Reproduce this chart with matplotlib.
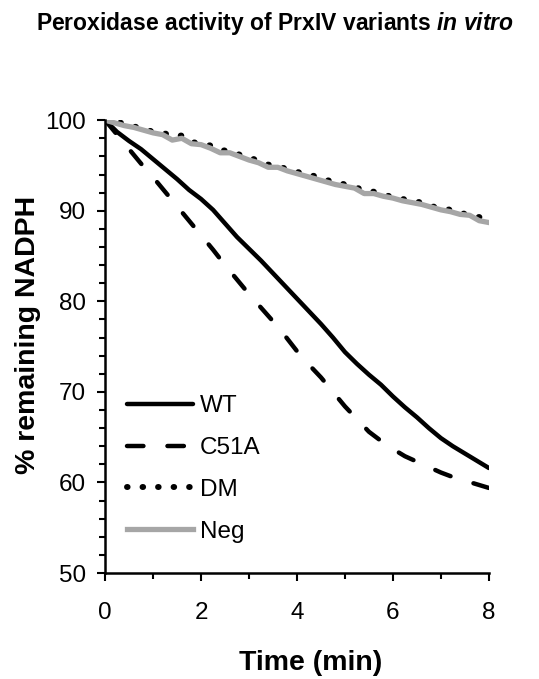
import numpy as np
import matplotlib
matplotlib.use("Agg")
import matplotlib.pyplot as plt
import matplotlib as mpl

mpl.rcParams['font.family'] = 'sans-serif'
mpl.rcParams['font.sans-serif'] = ['Liberation Sans', 'DejaVu Sans']
mpl.rcParams['mathtext.fontset'] = 'custom'
mpl.rcParams['mathtext.bfit'] = 'Liberation Sans:italic:bold'
mpl.rcParams['mathtext.rm'] = 'Liberation Sans'

# WT and C51A read every 0.25 min
t_fast = np.arange(0, 8.01, 0.25)
wt = [100.0, 98.7, 97.7, 96.8, 95.7, 94.6, 93.5, 92.3, 91.3, 90.1, 88.6,
      87.1, 85.8, 84.5, 83.1, 81.7, 80.3, 78.9, 77.5, 76.0, 74.4, 73.1,
      71.9, 70.8, 69.5, 68.3, 67.2, 66.0, 64.9, 64.0, 63.2, 62.4, 61.6]
c51a = [100.0, 98.4, 96.8, 95.2, 93.7, 92.1, 90.5, 88.9, 87.3, 85.7, 84.0,
        82.4, 80.8, 79.3, 77.8, 76.2, 74.5, 73.0, 71.6, 70.0, 68.4, 67.0,
        65.6, 64.6, 63.7, 62.9, 62.3, 61.7, 61.1, 60.6, 60.2, 59.8, 59.4]

# DM and Neg read every 0.2 min
t_slow = np.arange(0, 8.01, 0.2)
dm = [100.0, 99.9, 99.6, 99.3, 99.1, 98.7, 98.6, 98.3, 98.3, 97.6, 97.4,
      97.2, 96.7, 96.6, 96.2, 95.9, 95.5, 95.1, 94.9, 94.6, 94.3, 94.0,
      93.8, 93.4, 93.2, 92.9, 92.6, 92.3, 92.1, 91.8, 91.5, 91.3, 91.1,
      90.9, 90.5, 90.3, 90.1, 89.8, 89.5, 89.3, 89.0]
neg = [100.0, 99.7, 99.4, 99.2, 98.9, 98.6, 98.4, 97.8, 98.0, 97.4, 97.3,
       96.9, 96.4, 96.4, 96.0, 95.6, 95.3, 94.8, 94.8, 94.4, 94.1, 93.8,
       93.5, 93.2, 92.9, 92.7, 92.5, 91.9, 91.9, 91.6, 91.4, 91.1, 90.9,
       90.7, 90.4, 90.1, 89.9, 89.6, 89.5, 88.9, 88.7]

fig = plt.figure(figsize=(5.39, 6.79), dpi=100)
ax = fig.add_axes([0.195, 0.156, 0.712, 0.667])

ax.plot(t_fast, wt, color='black', lw=3.2, label='WT', solid_capstyle='round')
ax.plot(t_fast, c51a, color='black', lw=3.2, label='C51A',
        dashes=(3.7, 5.4), dash_capstyle='round')
ax.plot(t_slow, dm, color='black', lw=4.3, label='DM',
        dashes=(0.1, 2.5), dash_capstyle='round')
ax.plot(t_slow, neg, color='#a6a6a6', lw=3.8, label='Neg')

ax.set_xlim(0, 8)
ax.set_ylim(50, 100)
ax.set_xticks([0, 2, 4, 6, 8])
ax.set_xticks([1, 3, 5, 7], minor=True)
ax.set_yticks([50, 60, 70, 80, 90, 100])
ax.set_yticks(np.arange(52, 100, 2), minor=True)
ax.tick_params(which='both', direction='out', width=1.5, labelsize=17.5)
ax.tick_params(which='major', length=5.8)
ax.tick_params(which='minor', length=4.3)
ax.tick_params(axis='x', pad=15)
ax.tick_params(axis='y', pad=8)

ax.spines['right'].set_visible(False)
ax.spines['top'].set_visible(False)
ax.spines['left'].set_linewidth(1.8)
ax.spines['bottom'].set_linewidth(1.8)

ax.text(-0.202, 0.525, "% remaining NADPH", transform=ax.transAxes,
        rotation=90, ha='center', va='center', fontsize=20.5, fontweight='bold')
ax.text(0.536, -0.199, "Time (min)", transform=ax.transAxes,
        ha='center', va='center', fontsize=20.5, fontweight='bold')

fig.text(0.51, 0.965, r"Peroxidase activity of PrxIV variants $\mathbfit{in\ vitro}$",
         ha='center', va='center', fontsize=16.5, fontweight='bold')

ax.legend(loc='upper left', bbox_to_anchor=(0.057, 0.393), frameon=False,
          fontsize=17.5, handlelength=2.7, handletextpad=0.3, labelspacing=0.82,
          borderpad=0, borderaxespad=0)

fig.savefig('out.png', dpi=100)
